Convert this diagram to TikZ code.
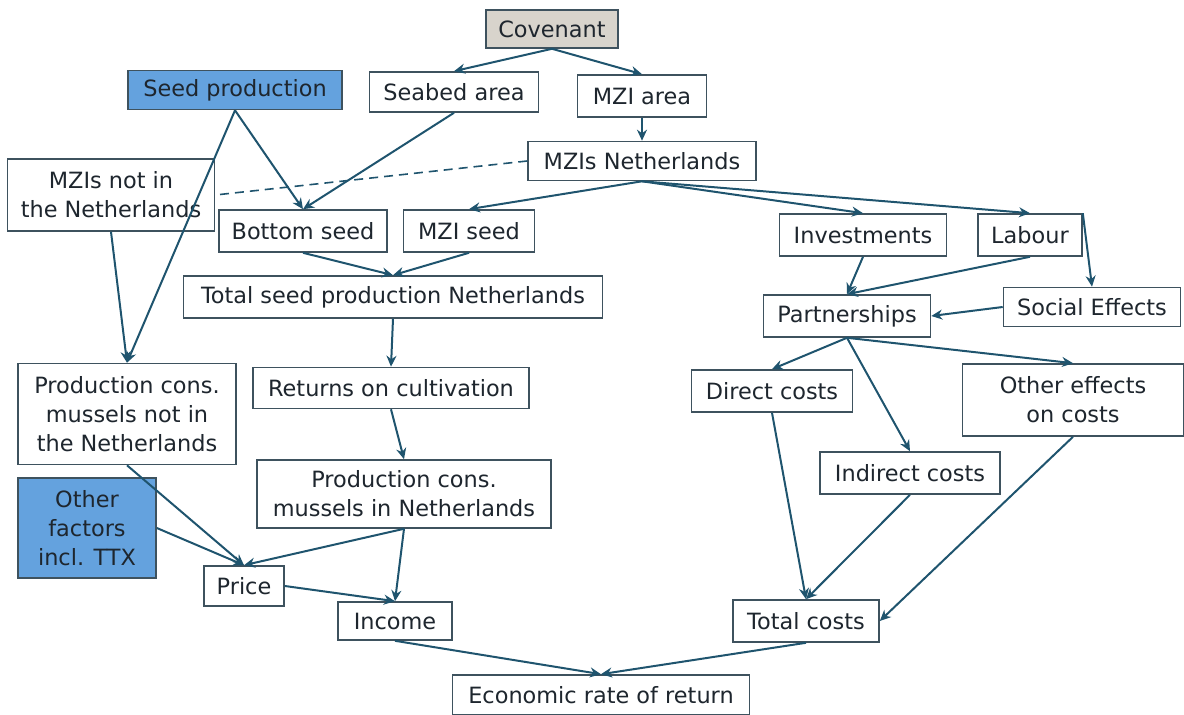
\documentclass[tikz,border=0pt]{standalone}
\usepackage{fontspec}
\setmainfont{DejaVu Sans}
\usepackage{xcolor}
\usetikzlibrary{arrows.meta, positioning, calc}

\begin{document}
\begin{tikzpicture}[x=0.5pt, y=-0.5pt,
        box/.style={draw=boxline, line width=0.8pt, fill=white, text=txt, align=center, inner sep=0pt,
            font=\fontsize{11.2}{14.5}\selectfont},
        bluebox/.style={box, fill=seedblue},
        link/.style={-{Stealth[length=5.5pt, width=5pt]}, line width=1pt, draw=linkcol},
        dashlink/.style={dash pattern=on 4.5pt off 3pt, line width=0.8pt, draw=linkcol}]
        % Màu sắc
        \definecolor{linkcol}{RGB}{31, 84, 110}
        \definecolor{boxline}{RGB}{62, 82, 94}
        \definecolor{txt}{RGB}{30, 38, 46}
        \definecolor{seedblue}{RGB}{100, 162, 222}
        \definecolor{covgray}{RGB}{216, 212, 204}

        \useasboundingbox (0,0) rectangle (1184,715);

        % 1. Hàng trên cùng
        \node[box, fill=covgray, minimum width=66pt, minimum height=19pt] (cov) at (552,29) {Covenant};
        \node[bluebox, minimum width=107pt, minimum height=19.5pt] (seed) at (235,90) {Seed production};
        \node[box, minimum width=84.5pt, minimum height=20pt] (seabed) at (454,92) {Seabed area};
        \node[box, minimum width=64.5pt, minimum height=21pt] (mziarea) at (642,96) {MZI area};
        \node[box, minimum width=114pt, minimum height=19.5pt] (mzinl) at (642,161) {MZIs Netherlands};
        \node[box, minimum width=103.5pt, minimum height=36pt] (mzinot) at (111,195) {MZIs not in\\the Netherlands};

        % 2. Nhánh giống (seed)
        \node[box, minimum width=84pt, minimum height=21pt] (bottom) at (303,231) {Bottom seed};
        \node[box, minimum width=65.5pt, minimum height=21pt] (mziseed) at (469,231) {MZI seed};
        \node[box, minimum width=209.5pt, minimum height=21pt] (totseed) at (393,297) {Total seed production Netherlands};
        \node[box, minimum width=138pt, minimum height=20.5pt] (returns) at (391,388) {Returns on cultivation};
        \node[box, minimum width=109pt, minimum height=50.5pt] (pcnot) at (127,414) {Production cons.\\mussels not in\\the Netherlands};
        \node[box, minimum width=147pt, minimum height=34pt] (pcin) at (404,494) {Production cons.\\mussels in Netherlands};
        \node[bluebox, minimum width=69pt, minimum height=50pt] (factors) at (87,528) {Other\\factors\\incl. TTX};
        \node[box, minimum width=40pt, minimum height=20pt] (price) at (244,586) {Price};
        \node[box, minimum width=57pt, minimum height=19pt] (income) at (395,621) {Income};

        % 3. Nhánh chi phí (costs)
        \node[box, minimum width=83.5pt, minimum height=21pt] (invest) at (863,235) {Investments};
        \node[box, minimum width=52pt, minimum height=21pt] (labour) at (1030,235) {Labour};
        \node[box, minimum width=83.5pt, minimum height=21pt] (partner) at (847,316) {Partnerships};
        \node[box, minimum width=88.5pt, minimum height=19.5pt] (social) at (1092,307) {Social Effects};
        \node[box, minimum width=80.5pt, minimum height=21pt] (direct) at (772,391) {Direct costs};
        \node[box, minimum width=110.5pt, minimum height=36pt] (othereff) at (1073,400) {Other effects\\on costs};
        \node[box, minimum width=90pt, minimum height=21pt] (indirect) at (910,473) {Indirect costs};
        \node[box, minimum width=73pt, minimum height=21pt] (totcost) at (806,621) {Total costs};

        % 4. Kết quả
        \node[box, minimum width=148.5pt, minimum height=20pt] (econ) at (601,695) {Economic rate of return};

        % Mũi tên
        \draw[link] (cov.south) -- (seabed.north);
        \draw[link] (cov.south) -- (mziarea.north);
        \draw[link] (mziarea.south) -- (mzinl.north);
        \draw[dashlink] (mzinl.west) -- (mzinot.east);
        \draw[link] (seed.south) -- (bottom.north);
        \draw[link] (seed.south) -- (pcnot.north);
        \draw[link] (seabed.south) -- (bottom.north);
        \draw[link] (mzinl.south) -- (mziseed.north);
        \draw[link] (mzinl.south) -- (invest.north);
        \draw[link] (mzinl.south) -- (labour.north);
        \draw[link] (mzinot.south) -- (pcnot.north);
        \draw[link] (bottom.south) -- (totseed.north);
        \draw[link] (mziseed.south) -- (totseed.north);
        \draw[link] (totseed.south) -- (returns.north);
        \draw[link] (returns.south) -- (pcin.north);
        \draw[link] (pcnot.south) -- (price.north);
        \draw[link] (factors.east) -- (price.north);
        \draw[link] (pcin.south) -- (price.north);
        \draw[link] (pcin.south) -- (income.north);
        \draw[link] (price.east) -- (income.north);
        \draw[link] (income.south) -- (econ.north);
        \draw[link] (totcost.south) -- (econ.north);

        \draw[link] (invest.south) -- (partner.north);
        \draw[link] (labour.south) -- (partner.north);
        \draw[link] (labour.north east) -- (social.north);
        \draw[link] (social.west) -- (partner.east);
        \draw[link] (partner.south) -- (direct.north);
        \draw[link] (partner.south) -- (indirect.north);
        \draw[link] (partner.south) -- (othereff.north);
        \draw[link] (direct.south) -- (totcost.north);
        \draw[link] (indirect.south) -- (totcost.north);
        \draw[link] (othereff.south) -- (totcost.east);
    \end{tikzpicture}
\end{document}
